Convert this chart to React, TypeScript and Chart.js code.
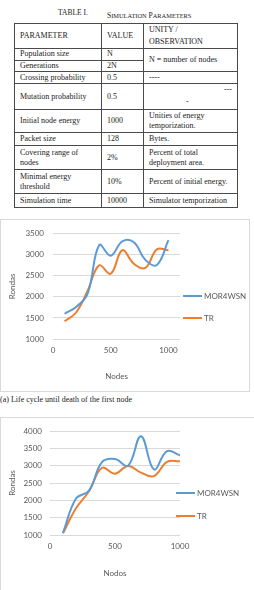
import React, { useEffect, useLayoutEffect, useRef } from "react";
import { Chart, registerables } from "chart.js";

Chart.register(...registerables);

// ---- chart data ----
const nodes = [100, 200, 300, 400, 500, 600, 700, 800, 900, 1000];
const seriesNames = ["MOR4WSN", "TR"];
const firstNodeMor4wsn = [1600, 1760, 2080, 3230, 2980, 3320, 3300, 2880, 2760, 3350];
const firstNodeTr = [1420, 1630, 2150, 2750, 2550, 3110, 2790, 2690, 3130, 3110];
const secondMor4wsn = [1060, 2050, 2280, 3100, 3190, 3000, 3850, 2890, 3420, 3300];
const secondTr = [1050, 1770, 2260, 2940, 2770, 2990, 2800, 2700, 3110, 3130];
const xTickValues = [0, 500, 1000];
const yTicksA = [1000, 1500, 2000, 2500, 3000, 3500];
const yTicksB = [1000, 1500, 2000, 2500, 3000, 3500, 4000];
const yTitle = "Rondas";
const xTitleA = "Nodes";
const xTitleB = "Nodos";
const captionA = "(a) Life cycle until death of the first node";

// ---- table text ----
const tableNumber = "TABLE I.";
const tableTitleWords = ["SIMULATION", "PARAMETERS"];
const headParam = "PARAMETER";
const headValue = "VALUE";
const headObs = ["UNITY /", "OBSERVATION"];
const paramNames = [
  ["Population size"],
  ["Generations"],
  ["Crossing probability"],
  ["Mutation probability"],
  ["Initial node energy"],
  ["Packet size"],
  ["Covering range of", "nodes"],
  ["Minimal energy", "threshold"],
  ["Simulation time"],
];
const paramValues = ["N", "2N", "0.5", "0.5", "1000", "128", "2%", "10%", "10000"];
const paramObs: (string[] | null)[] = [
  ["N = number of nodes"],
  null,
  ["----"],
  [],
  ["Unities of energy", "temporization."],
  ["Bytes."],
  ["Percent of total", "deployment area."],
  ["Percent of initial energy."],
  ["Simulator temporization"],
];
const rowHeights = [11.5, 11.5, 12, 26, 23, 13, 24, 24, 14];

const BLUE = "#5B9BD5";
const ORANGE = "#ED7D31";
const GREY = "#595959";
const GRID = "#D9D9D9";
const FONT = "Lato";

const sideLegend = {
  id: "sideLegend",
  afterDraw(chart: any, _args: any, opts: any) {
    const { ctx } = chart;
    chart.data.datasets.forEach((ds: any, i: number) => {
      const y = opts.y + i * opts.gap;
      ctx.save();
      ctx.strokeStyle = ds.borderColor;
      ctx.lineWidth = 2;
      ctx.beginPath();
      ctx.moveTo(opts.x, y);
      ctx.lineTo(opts.x + opts.len, y);
      ctx.stroke();
      ctx.fillStyle = GREY;
      ctx.font = `8px ${FONT}`;
      ctx.textBaseline = "middle";
      ctx.textAlign = "left";
      ctx.fillText(ds.label, opts.x + opts.len + 2, y + 0.5);
      ctx.restore();
    });
  },
};

type Spec = {
  mor: number[];
  tr: number[];
  xMax: number;
  yMax: number;
  yTicks: number[];
  xTitle: string;
  width: number;
  height: number;
  padTop: number;
  padRight: number;
  yWidth: number;
  xHeight: number;
  yTickPad: number;
  yTitlePad: number;
  xTitleBottom: number;
  legendX: number;
  legendY: number;
  legendGap: number;
};

function LineChart(p: Spec) {
  const ref = useRef<HTMLCanvasElement>(null);
  useEffect(() => {
    if (!ref.current) return;
    const chart = new Chart(ref.current, {
      type: "line",
      data: {
        datasets: [
          {
            label: seriesNames[0],
            data: nodes.map((x, i) => ({ x, y: p.mor[i] })),
            borderColor: BLUE,
            backgroundColor: BLUE,
            borderWidth: 2,
            pointRadius: 0,
            tension: 0.4,
          },
          {
            label: seriesNames[1],
            data: nodes.map((x, i) => ({ x, y: p.tr[i] })),
            borderColor: ORANGE,
            backgroundColor: ORANGE,
            borderWidth: 2,
            pointRadius: 0,
            tension: 0.4,
          },
        ],
      },
      options: {
        animation: false,
        responsive: false,
        devicePixelRatio: 1,
        layout: { padding: { top: p.padTop, right: p.padRight, left: 0, bottom: 0 } },
        plugins: {
          legend: { display: false },
          tooltip: { enabled: false },
          sideLegend: { x: p.legendX, y: p.legendY, gap: p.legendGap, len: 19 },
        } as any,
        scales: {
          x: {
            type: "linear",
            min: 0,
            max: p.xMax,
            grid: { display: false, drawTicks: false },
            border: { display: false },
            afterBuildTicks: (s: any) => {
              s.ticks = xTickValues.map((v) => ({ value: v }));
            },
            ticks: {
              autoSkip: false,
              maxRotation: 0,
              padding: 7,
              color: GREY,
              font: { family: FONT, size: 8 },
              callback: (v: any) => String(v),
            },
            title: {
              display: true,
              text: p.xTitle,
              color: GREY,
              font: { family: FONT, size: 8 },
              padding: { top: 4, bottom: p.xTitleBottom },
            },
            afterFit: (s: any) => {
              s.height = p.xHeight;
            },
          },
          y: {
            min: 1000,
            max: p.yMax,
            grid: { color: GRID, lineWidth: 1, drawTicks: false },
            border: { display: false },
            afterBuildTicks: (s: any) => {
              s.ticks = p.yTicks.map((v) => ({ value: v }));
            },
            ticks: {
              autoSkip: false,
              padding: p.yTickPad,
              color: GREY,
              font: { family: FONT, size: 8 },
              callback: (v: any) => String(v),
            },
            title: {
              display: true,
              text: yTitle,
              color: GREY,
              font: { family: FONT, size: 8 },
              padding: { top: p.yTitlePad, bottom: 0 },
            },
            afterFit: (s: any) => {
              s.width = p.yWidth;
            },
          },
        },
      },
      plugins: [sideLegend],
    });
    return () => chart.destroy();
  }, []);
  return (
    <canvas
      ref={ref}
      width={p.width}
      height={p.height}
      style={{ display: "block", width: p.width, height: p.height }}
    />
  );
}

function Lines({ lines }: { lines: string[] }) {
  return (
    <>
      {lines.map((l, i) => (
        <React.Fragment key={i}>
          {i > 0 && <br />}
          {l}
        </React.Fragment>
      ))}
    </>
  );
}

const cellBase: React.CSSProperties = {
  border: "1px solid #4a4a4a",
  padding: "0 3px 0 5px",
  verticalAlign: "middle",
  whiteSpace: "nowrap",
  lineHeight: "10px",
  overflow: "hidden",
};

function SmallCaps({ word }: { word: string }) {
  return (
    <span>
      <span style={{ fontSize: 7.5 }}>{word[0]}</span>
      <span style={{ fontSize: 6.4 }}>{word.slice(1)}</span>
    </span>
  );
}

function ParamTable() {
  return (
    <table
      style={{
        position: "absolute",
        left: 14,
        top: 23,
        width: 223,
        borderCollapse: "collapse",
        tableLayout: "fixed",
        fontFamily: '"Liberation Serif", serif',
        fontSize: 8,
        color: "#222",
      }}
    >
      <colgroup>
        <col style={{ width: 87 }} />
        <col style={{ width: 42 }} />
        <col style={{ width: 94 }} />
      </colgroup>
      <tbody>
        <tr style={{ height: 25 }}>
          <td style={cellBase}>{headParam}</td>
          <td style={cellBase}>{headValue}</td>
          <td style={{ ...cellBase, lineHeight: "12px" }}>
            <Lines lines={headObs} />
          </td>
        </tr>
        {paramNames.map((name, i) => {
          const obs = paramObs[i];
          return (
            <tr key={i} style={{ height: rowHeights[i] }}>
              <td style={cellBase}>
                <Lines lines={name} />
              </td>
              <td style={cellBase}>{paramValues[i]}</td>
              {obs === null ? null : i === 3 ? (
                <td style={{ ...cellBase, padding: 0 }}>
                  <div style={{ position: "relative", height: 25 }}>
                    <span style={{ position: "absolute", left: 80, top: 1, lineHeight: "10px" }}>---</span>
                    <span style={{ position: "absolute", left: 42, top: 13, lineHeight: "10px" }}>-</span>
                  </div>
                </td>
              ) : (
                <td style={cellBase} rowSpan={i === 0 ? 2 : 1}>
                  <Lines lines={obs} />
                </td>
              )}
            </tr>
          );
        })}
      </tbody>
    </table>
  );
}

export default function App() {
  useLayoutEffect(() => {
    document.body.style.margin = "0";
  }, []);
  return (
    <div
      style={{
        position: "relative",
        width: 254,
        height: 590,
        overflow: "hidden",
        background: "#fff",
        fontFamily: '"Liberation Serif", serif',
      }}
    >
      <div
        style={{
          position: "absolute",
          left: 58,
          top: 8,
          fontSize: 7.5,
          lineHeight: "10px",
          color: "#222",
          whiteSpace: "nowrap",
        }}
      >
        {tableNumber}
      </div>
      <div
        style={{
          position: "absolute",
          left: 107,
          top: 8,
          lineHeight: "10px",
          color: "#222",
          whiteSpace: "nowrap",
        }}
      >
        <SmallCaps word={tableTitleWords[0]} />
        <span style={{ fontSize: 7.5 }}> </span>
        <SmallCaps word={tableTitleWords[1]} />
      </div>
      <ParamTable />
      <div
        style={{
          position: "absolute",
          left: 0,
          top: 219,
          width: 250,
          height: 173,
          boxSizing: "border-box",
          border: `1px solid ${GRID}`,
        }}
      >
        <LineChart
          mor={firstNodeMor4wsn}
          tr={firstNodeTr}
          xMax={1100}
          yMax={3500}
          yTicks={yTicksA}
          xTitle={xTitleA}
          width={248}
          height={171}
          padTop={12}
          padRight={69}
          yWidth={52}
          xHeight={52}
          yTickPad={9}
          yTitlePad={7}
          xTitleBottom={10}
          legendX={182}
          legendY={76}
          legendGap={22}
        />
      </div>
      <div
        style={{
          position: "absolute",
          left: 0,
          top: 395,
          fontSize: 8,
          lineHeight: "10px",
          color: "#222",
          whiteSpace: "nowrap",
        }}
      >
        {captionA}
      </div>
      <div
        style={{
          position: "absolute",
          left: 0,
          top: 417,
          width: 256,
          height: 185,
          boxSizing: "border-box",
          border: `1px solid ${GRID}`,
        }}
      >
        <LineChart
          mor={secondMor4wsn}
          tr={secondTr}
          xMax={1000}
          yMax={4000}
          yTicks={yTicksB}
          xTitle={xTitleB}
          width={253}
          height={171}
          padTop={13}
          padRight={74}
          yWidth={49}
          xHeight={54}
          yTickPad={8}
          yTitlePad={7}
          xTitleBottom={11}
          legendX={175}
          legendY={75}
          legendGap={23}
        />
      </div>
    </div>
  );
}
